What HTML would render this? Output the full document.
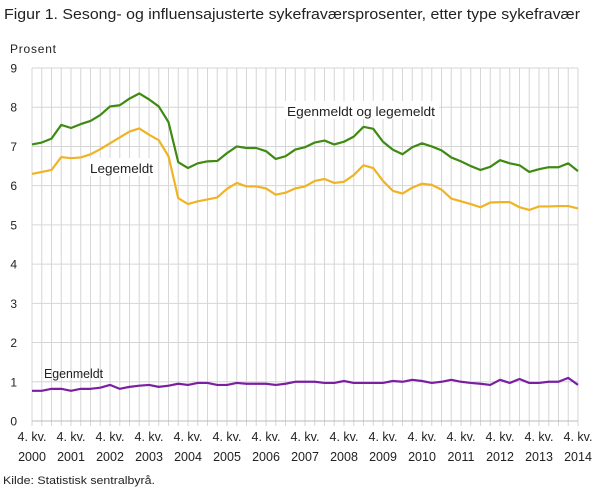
<!DOCTYPE html>
<html><head><meta charset="utf-8"><style>
body{margin:0;background:#fff;font-family:"Liberation Sans",sans-serif;}
svg text{font-family:"Liberation Sans",sans-serif;}
</style></head><body>
<svg width="609" height="489">
<text x="4" y="19" font-size="14.5" fill="#222" textLength="576" lengthAdjust="spacingAndGlyphs">Figur 1. Sesong- og influensajusterte sykefraværsprosenter, etter type sykefravær</text>
<text x="10" y="53" font-size="12" fill="#222" textLength="46">Prosent</text>
<g id="grid"></g><g id="ticks"></g><g id="series"></g>
<rect x="284" y="101" width="155" height="18" fill="#fff"/>
<text x="287" y="116" font-size="12.5" fill="#222" textLength="148" lengthAdjust="spacingAndGlyphs">Egenmeldt  og legemeldt</text>
<rect x="87" y="158" width="69" height="18" fill="#fff"/>
<text x="90" y="173" font-size="12.5" fill="#222" textLength="63" lengthAdjust="spacingAndGlyphs">Legemeldt</text>
<text x="44" y="378" font-size="12.5" fill="#222" textLength="59" lengthAdjust="spacingAndGlyphs">Egenmeldt</text>
<text x="3" y="484" font-size="11" fill="#222" textLength="152" lengthAdjust="spacingAndGlyphs">Kilde: Statistisk sentralbyrå.</text>
</svg>
<script>
const years=["2000","2001","2002","2003","2004","2005","2006","2007","2008","2009","2010","2011","2012","2013","2014"];
const yTicks=[0,1,2,3,4,5,6,7,8,9];
const total=[7.05,7.1,7.2,7.55,7.47,7.57,7.65,7.8,8.02,8.05,8.22,8.35,8.2,8.02,7.62,6.6,6.45,6.57,6.62,6.63,6.83,7.0,6.96,6.96,6.88,6.68,6.75,6.92,6.98,7.1,7.15,7.05,7.12,7.25,7.5,7.45,7.12,6.92,6.8,6.98,7.08,7.0,6.9,6.72,6.62,6.5,6.4,6.48,6.65,6.57,6.52,6.35,6.42,6.47,6.47,6.57,6.37];
const lege=[6.3,6.35,6.4,6.73,6.7,6.72,6.8,6.93,7.08,7.23,7.38,7.46,7.3,7.16,6.75,5.68,5.53,5.6,5.65,5.7,5.92,6.07,5.98,5.98,5.93,5.77,5.82,5.93,5.98,6.12,6.17,6.07,6.1,6.27,6.52,6.45,6.12,5.87,5.8,5.95,6.05,6.02,5.9,5.67,5.6,5.53,5.45,5.57,5.58,5.58,5.45,5.38,5.47,5.47,5.48,5.48,5.42];
const egen=[0.77,0.77,0.82,0.82,0.77,0.82,0.82,0.85,0.92,0.82,0.87,0.9,0.92,0.87,0.9,0.95,0.92,0.97,0.97,0.92,0.92,0.97,0.95,0.95,0.95,0.92,0.95,1.0,1.0,1.0,0.97,0.97,1.02,0.97,0.97,0.97,0.97,1.02,1.0,1.05,1.02,0.97,1.0,1.05,1.0,0.97,0.95,0.92,1.05,0.97,1.07,0.97,0.97,1.0,1.0,1.1,0.92];
const NS="http://www.w3.org/2000/svg";
const X0=32,X1=578,Y0=421,Y9=68,N=total.length;
const x=i=>X0+(X1-X0)*i/(N-1);
const y=v=>Y0-(Y0-Y9)*v/9;
const grid=document.getElementById('grid'),ticks=document.getElementById('ticks'),ser=document.getElementById('series');
function mk(tag,at,parent){const e=document.createElementNS(NS,tag);for(const k in at)e.setAttribute(k,at[k]);parent.appendChild(e);return e;}
for(let i=0;i<N;i++){
 const l=mk('line',{x1:x(i),x2:x(i),y1:Y9,y2:Y0+5,stroke:'#d6d6d6','stroke-width':1},grid);
 
 
}
yTicks.forEach(v=>{
 const l=mk('line',{x1:X0,x2:X1,y1:y(v),y2:y(v),stroke:v===0?'#bbb':'#d6d6d6','stroke-width':1},grid);
 
 
 const t=mk('text',{x:17,y:y(v)+4.5,'text-anchor':'end','font-size':12,fill:'#222'},ticks);
 t.textContent=v;
 
 
});
years.forEach((yr,k)=>{
 const cx=x(k*4);
 const t1=mk('text',{x:cx,y:441,'text-anchor':'middle','font-size':12.5,fill:'#222'},ticks);
 t1.textContent='4. kv.';
 
 
 const t2=mk('text',{x:cx,y:461,'text-anchor':'middle','font-size':12.5,fill:'#222'},ticks);
 t2.textContent=yr;
 
 
});
function line(d,c,name){
 const p=mk('polyline',{points:d.map((v,i)=>x(i)+','+y(v)).join(' '),fill:'none',stroke:c,'stroke-width':2.2,'stroke-linejoin':'round'},ser);
 
 
}
line(total,'#3e8a12','line-egenmeldt-og-legemeldt');
line(lege,'#f0b323','line-legemeldt');
line(egen,'#7b1fa2','line-egenmeldt');
</script>
</body></html>
